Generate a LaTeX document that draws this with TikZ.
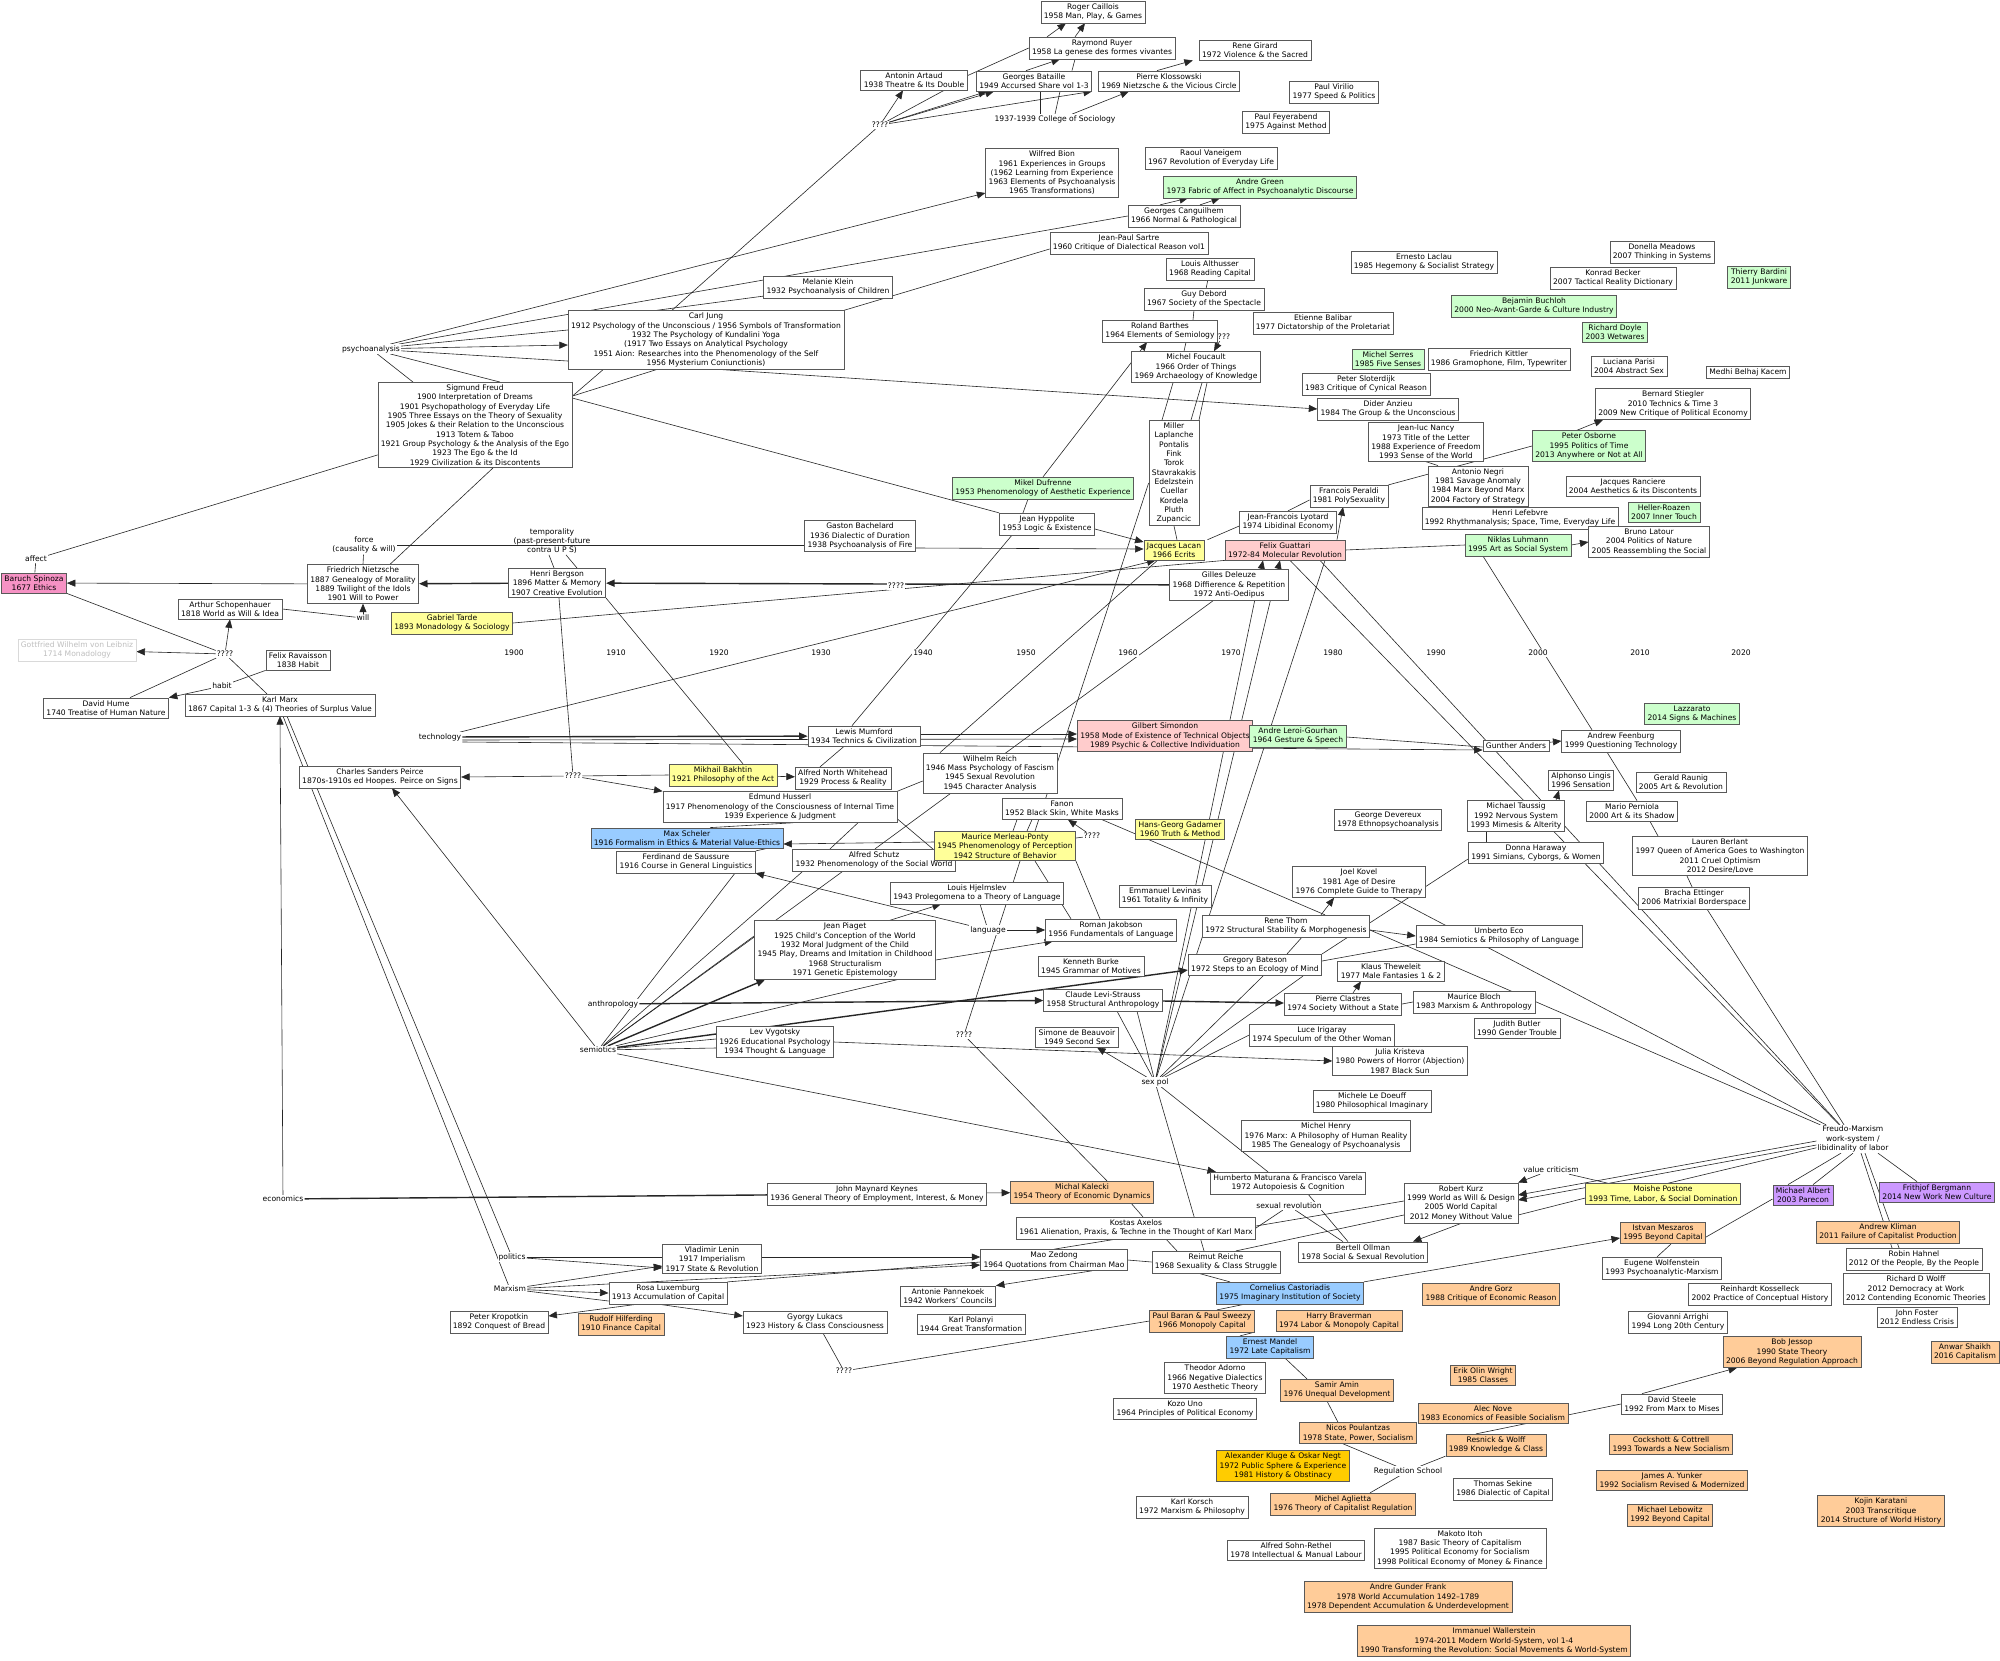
\documentclass[tikz,border=0pt]{standalone}
\usepackage{fontspec}
\setmainfont{DejaVu Sans}
\usetikzlibrary{arrows.meta}
\pgfdeclarelayer{edges}
\pgfdeclarelayer{paper}
\pgfsetlayers{paper,edges,main}
\definecolor{hotpink}{RGB}{246,146,196}
\definecolor{rosepink}{RGB}{255,204,204}
\definecolor{mintgreen}{RGB}{204,255,204}
\definecolor{paleyellow}{RGB}{255,255,153}
\definecolor{skyblue}{RGB}{153,204,255}
\definecolor{peach}{RGB}{255,204,153}
\definecolor{goldbox}{RGB}{255,204,0}
\definecolor{lilac}{RGB}{204,153,255}

\begin{document}
\begin{tikzpicture}[x=1pt,y=-1pt]
   \tikzset{BoxStyle/.style={draw=black!65,line width=0.6pt,fill=white,align=center,
      inner xsep=3pt,inner ysep=2.5pt,font=\fontsize{7.6}{9.3}\selectfont}}
   \tikzset{GreenBox/.style={BoxStyle,fill=mintgreen},
      YellowBox/.style={BoxStyle,fill=paleyellow},
      PinkBox/.style={BoxStyle,fill=rosepink},
      BlueBox/.style={BoxStyle,fill=skyblue},
      OrangeBox/.style={BoxStyle,fill=peach},
      LabelStyle/.style={fill=white,inner sep=1pt,align=center,font=\fontsize{7.6}{9.3}\selectfont},
      EdgeStyle/.style={line width=0.6pt,black!85},
      ArrowStyle/.style={EdgeStyle,-{Triangle[length=8.5pt,width=7pt]}},
      ThickStyle/.style={line width=1.4pt}}
   \useasboundingbox (0,0) rectangle (2000,1660);
   \begin{pgfonlayer}{paper}
   \fill[white] (0,0) rectangle (2000,1660);
   \end{pgfonlayer}

   % years
   \node[LabelStyle] (y1900) at (514,653) {1900};
   \node[LabelStyle] (y1910) at (616,653) {1910};
   \node[LabelStyle] (y1920) at (719,653) {1920};
   \node[LabelStyle] (y1930) at (821,653) {1930};
   \node[LabelStyle] (y1940) at (923,653) {1940};
   \node[LabelStyle] (y1950) at (1026,653) {1950};
   \node[LabelStyle] (y1960) at (1128,653) {1960};
   \node[LabelStyle] (y1970) at (1231,653) {1970};
   \node[LabelStyle] (y1980) at (1333,653) {1980};
   \node[LabelStyle] (y1990) at (1436,653) {1990};
   \node[LabelStyle] (y2000) at (1538,653) {2000};
   \node[LabelStyle] (y2010) at (1640,653) {2010};
   \node[LabelStyle] (y2020) at (1741,653) {2020};

   % top cluster
   \node[BoxStyle] (caillois) at (1093,12) {Roger Caillois\\1958 Man, Play, \& Games};
   \node[BoxStyle] (ruyer) at (1102,48) {Raymond Ruyer\\1958 La genese des formes vivantes};
   \node[BoxStyle] (girard) at (1255,50) {Rene Girard\\1972 Violence \& the Sacred};
   \node[BoxStyle] (artaud) at (914,80) {Antonin Artaud\\1938 Theatre \& Its Double};
   \node[BoxStyle] (bataille) at (1034,81) {Georges Bataille\\1949 Accursed Share vol 1-3};
   \node[BoxStyle] (klossowski) at (1169,81) {Pierre Klossowski\\1969 Nietzsche \& the Vicious Circle};
   \node[BoxStyle] (virilio) at (1334,92) {Paul Virilio\\1977 Speed \& Politics};
   \node[BoxStyle] (feyerabend) at (1286,122) {Paul Feyerabend\\1975 Against Method};
   \node[LabelStyle] (college) at (1055,119) {1937-1939 College of Sociology};
   \node[LabelStyle] (qtop) at (880,125) {????};
   \node[BoxStyle] (bion) at (1052,173) {Wilfred Bion\\1961 Experiences in Groups\\(1962 Learning from Experience\\1963 Elements of Psychoanalysis\\1965 Transformations)};
   \node[BoxStyle] (vaneigem) at (1211,158) {Raoul Vaneigem\\1967 Revolution of Everyday Life};
   \node[GreenBox] (green) at (1260,187) {Andre Green\\1973 Fabric of Affect in Psychoanalytic Discourse};
   \node[BoxStyle] (canguilhem) at (1184,216) {Georges Canguilhem\\1966 Normal \& Pathological};
   \node[BoxStyle] (sartre) at (1129,243) {Jean-Paul Sartre\\1960 Critique of Dialectical Reason vol1};
   \node[BoxStyle] (althusser) at (1210,269) {Louis Althusser\\1968 Reading Capital};
   \node[BoxStyle] (debord) at (1204,299) {Guy Debord\\1967 Society of the Spectacle};
   \node[BoxStyle] (balibar) at (1323,323) {Etienne Balibar\\1977 Dictatorship of the Proletariat};
   \node[BoxStyle] (laclau) at (1424,262) {Ernesto Laclau\\1985 Hegemony \& Socialist Strategy};
   \node[LabelStyle] (qfou) at (1222,337) {????};
   \node[BoxStyle] (barthes) at (1160,331) {Roland Barthes\\1964 Elements of Semiology};
   \node[BoxStyle] (foucault) at (1196,367) {Michel Foucault\\1966 Order of Things\\1969 Archaeology of Knowledge};
   \node[GreenBox] (serres) at (1388,359) {Michel Serres\\1985 Five Senses};
   \node[BoxStyle] (kittler) at (1499,359) {Friedrich Kittler\\1986 Gramophone, Film, Typewriter};
   \node[BoxStyle] (sloterdijk) at (1366,384) {Peter Sloterdijk\\1983 Critique of Cynical Reason};
   \node[BoxStyle] (anzieu) at (1388,409) {Dider Anzieu\\1984 The Group \& the Unconscious};
   \node[BoxStyle] (nancy) at (1426,442) {Jean-luc Nancy\\1973 Title of the Letter\\1988 Experience of Freedom\\1993 Sense of the World};
   \node[BoxStyle] (miller) at (1174,473) {Miller\\Laplanche\\Pontalis\\Fink\\Torok\\Stavrakakis\\Edelzstein\\Cuellar\\Kordela\\Pluth\\Zupancic};
   \node[GreenBox] (dufrenne) at (1043,488) {Mikel Dufrenne\\1953 Phenomenology of Aesthetic Experience};
   \node[BoxStyle] (hyppolite) at (1047,524) {Jean Hyppolite\\1953 Logic \& Existence};
   \node[YellowBox] (lacan) at (1174,550) {Jacques Lacan\\1966 Ecrits};
   \node[BoxStyle] (lyotard) at (1288,522) {Jean-Francois Lyotard\\1974 Libidinal Economy};
   \node[BoxStyle] (peraldi) at (1349,496) {Francois Peraldi\\1981 PolySexuality};
   \node[PinkBox] (guattari) at (1285,550) {Felix Guattari\\1972-84 Molecular Revolution};
   \node[BoxStyle] (lefebvre) at (1520,518) {Henri Lefebvre\\1992 Rhythmanalysis; Space, Time, Everyday Life};
   \node[BoxStyle] (negri) at (1478,486) {Antonio Negri\\1981 Savage Anomaly\\1984 Marx Beyond Marx\\2004 Factory of Strategy};
   \node[GreenBox] (luhmann) at (1518,545) {Niklas Luhmann\\1995 Art as Social System};
   \node[BoxStyle] (meadows) at (1662,252) {Donella Meadows\\2007 Thinking in Systems};
   \node[BoxStyle] (becker) at (1613,278) {Konrad Becker\\2007 Tactical Reality Dictionary};
   \node[GreenBox] (bardini) at (1759,277) {Thierry Bardini\\2011 Junkware};
   \node[GreenBox] (buchloh) at (1534,306) {Bejamin Buchloh\\2000 Neo-Avant-Garde \& Culture Industry};
   \node[GreenBox] (doyle) at (1615,332) {Richard Doyle\\2003 Wetwares};
   \node[BoxStyle] (parisi) at (1629,366) {Luciana Parisi\\2004 Abstract Sex};
   \node[BoxStyle] (kacem) at (1748,372) {Medhi Belhaj Kacem};
   \node[BoxStyle] (stiegler) at (1673,404) {Bernard Stiegler\\2010 Technics \& Time 3\\2009 New Critique of Political Economy};
   \node[GreenBox] (osborne) at (1589,446) {Peter Osborne\\1995 Politics of Time\\2013 Anywhere or Not at All};
   \node[BoxStyle] (ranciere) at (1633,486) {Jacques Ranciere\\2004 Aesthetics \& its Discontents};
   \node[GreenBox] (roazen) at (1664,512) {Heller-Roazen\\2007 Inner Touch};
   \node[BoxStyle] (latour) at (1649,542) {Bruno Latour\\2004 Politics of Nature\\2005 Reassembling the Social};

   % psychoanalysis and left side
   \node[LabelStyle] (psycho) at (371,349) {psychoanalysis};
   \node[BoxStyle] (jung) at (706,340) {Carl Jung\\1912 Psychology of the Unconscious / 1956 Symbols of Transformation\\1932 The Psychology of Kundalini Yoga\\(1917 Two Essays on Analytical Psychology\\1951 Aion: Researches into the Phenomenology of the Self\\1956 Mysterium Coniunctionis)};
   \node[BoxStyle] (klein) at (828,287) {Melanie Klein\\1932 Psychoanalysis of Children};
   \node[BoxStyle] (freud) at (475,425) {Sigmund Freud\\1900 Interpretation of Dreams\\1901 Psychopathology of Everyday Life\\1905 Three Essays on the Theory of Sexuality\\1905 Jokes \& their Relation to the Unconscious\\1913 Totem \& Taboo\\1921 Group Psychology \& the Analysis of the Ego\\1923 The Ego \& the Id\\1929 Civilization \& its Discontents};
   \node[LabelStyle] (force) at (364,545) {force\\(causality \& will)};
   \node[LabelStyle,fill=none] (temporality) at (552,541) {temporality\\(past-present-future\\contra U P S)};
   \node[BoxStyle] (bachelard) at (860,536) {Gaston Bachelard\\1936 Dialectic of Duration\\1938 Psychoanalysis of Fire};
   \node[LabelStyle] (affect) at (36,559) {affect};
   \node[BoxStyle,fill=hotpink] (spinoza) at (34,583) {Baruch Spinoza\\1677 Ethics};
   \node[BoxStyle] (nietzsche) at (363,584) {Friedrich Nietzsche\\1887 Genealogy of Morality\\1889 Twilight of the Idols\\1901 Will to Power};
   \node[BoxStyle] (schopenhauer) at (230,609) {Arthur Schopenhauer\\1818 World as Will \& Idea};
   \node[LabelStyle] (will) at (363,618) {will};
   \node[YellowBox] (tarde) at (452,623) {Gabriel Tarde\\1893 Monadology \& Sociology};
   \node[BoxStyle,draw=black!15,text=black!25] (leibniz) at (77,650) {Gottfried Wilhelm von Leibniz\\1714 Monadology};
   \node[LabelStyle] (qleft) at (225,654) {????};
   \node[BoxStyle] (ravaisson) at (298,660) {Felix Ravaisson\\1838 Habit};
   \node[LabelStyle] (habit) at (222,686) {habit};
   \node[BoxStyle] (hume) at (106,708) {David Hume\\1740 Treatise of Human Nature};
   \node[BoxStyle] (marx) at (280,705) {Karl Marx\\1867 Capital 1-3 \& (4) Theories of Surplus Value};
   \node[BoxStyle] (bergson) at (557,583) {Henri Bergson\\1896 Matter \& Memory\\1907 Creative Evolution};
   \node[LabelStyle] (qberg) at (896,586) {????};
   \node[LabelStyle] (technology) at (440,737) {technology};
   \node[BoxStyle] (peirce) at (380,777) {Charles Sanders Peirce\\1870s-1910s ed Hoopes. Peirce on Signs};

   % middle
   \node[BoxStyle] (mumford) at (864,736) {Lewis Mumford\\1934 Technics \& Civilization};
   \node[YellowBox] (bakhtin) at (723,775) {Mikhail Bakhtin\\1921 Philosophy of the Act};
   \node[LabelStyle] (qpeirce) at (573,776) {????};
   \node[BoxStyle] (whitehead) at (843,778) {Alfred North Whitehead\\1929 Process \& Reality};
   \node[BoxStyle] (husserl) at (780,807) {Edmund Husserl\\1917 Phenomenology of the Consciousness of Internal Time\\1939 Experience \& Judgment};
   \node[BoxStyle] (reich) at (990,773) {Wilhelm Reich\\1946 Mass Psychology of Fascism\\1945 Sexual Revolution\\1945 Character Analysis};
   \node[BlueBox] (scheler) at (687,838) {Max Scheler\\1916 Formalism in Ethics \& Material Value-Ethics};
   \node[BoxStyle] (saussure) at (686,862) {Ferdinand de Saussure\\1916 Course in General Linguistics};
   \node[BoxStyle] (schutz) at (874,860) {Alfred Schutz\\1932 Phenomenology of the Social World};
   \node[YellowBox] (merleau) at (1005,846) {Maurice Merleau-Ponty\\1945 Phenomenology of Perception\\1942 Structure of Behavior};
   \node[BoxStyle] (hjelmslev) at (977,893) {Louis Hjelmslev\\1943 Prolegomena to a Theory of Language};
   \node[LabelStyle] (language) at (988,930) {language};
   \node[BoxStyle] (piaget) at (845,950) {Jean Piaget\\1925 Child's Conception of the World\\1932 Moral Judgment of the Child\\1945 Play, Dreams and Imitation in Childhood\\1968 Structuralism\\1971 Genetic Epistemology};
   \node[LabelStyle] (anthropology) at (613,1004) {anthropology};
   \node[LabelStyle] (semiotics) at (598,1050) {semiotics};
   \node[BoxStyle] (vygotsky) at (775,1042) {Lev Vygotsky\\1926 Educational Psychology\\1934 Thought \& Language};
   \node[LabelStyle] (qsem) at (964,1035) {????};
   \node[BoxStyle] (deleuze) at (1229,585) {Gilles Deleuze\\1968 Diffierence \& Repetition\\1972 Anti-Oedipus};
   \node[PinkBox] (simondon) at (1165,736) {Gilbert Simondon\\1958 Mode of Existence of Technical Objects\\1989 Psychic \& Collective Individuation};
   \node[GreenBox] (leroi) at (1298,736) {Andre Leroi-Gourhan\\1964 Gesture \& Speech};
   \node[BoxStyle] (anders) at (1516,746) {Gunther Anders};
   \node[BoxStyle] (fanon) at (1062,809) {Fanon\\1952 Black Skin, White Masks};
   \node[LabelStyle] (qfanon) at (1092,836) {????};
   \node[YellowBox] (gadamer) at (1180,829) {Hans-Georg Gadamer\\1960 Truth \& Method};
   \node[BoxStyle] (devereux) at (1388,820) {George Devereux\\1978 Ethnopsychoanalysis};
   \node[BoxStyle] (kovel) at (1359,882) {Joel Kovel\\1981 Age of Desire\\1976 Complete Guide to Therapy};
   \node[BoxStyle] (levinas) at (1165,896) {Emmanuel Levinas\\1961 Totality \& Infinity};
   \node[BoxStyle] (jakobson) at (1111,930) {Roman Jakobson\\1956 Fundamentals of Language};
   \node[BoxStyle] (thom) at (1286,926) {Rene Thom\\1972 Structural Stability \& Morphogenesis};
   \node[BoxStyle] (eco) at (1499,936) {Umberto Eco\\1984 Semiotics \& Philosophy of Language};
   \node[BoxStyle] (burke) at (1091,966) {Kenneth Burke\\1945 Grammar of Motives};
   \node[BoxStyle] (bateson) at (1255,965) {Gregory Bateson\\1972 Steps to an Ecology of Mind};
   \node[BoxStyle] (theweleit) at (1391,971) {Klaus Theweleit\\1977 Male Fantasies 1 \& 2};
   \node[BoxStyle] (levistrauss) at (1103,1000) {Claude Levi-Strauss\\1958 Structural Anthropology};
   \node[BoxStyle] (clastres) at (1343,1004) {Pierre Clastres\\1974 Society Without a State};
   \node[BoxStyle] (bloch) at (1474,1002) {Maurice Bloch\\1983 Marxism \& Anthropology};
   \node[BoxStyle] (butler) at (1517,1028) {Judith Butler\\1990 Gender Trouble};
   \node[BoxStyle] (beauvoir) at (1077,1037) {Simone de Beauvoir\\1949 Second Sex};
   \node[BoxStyle] (irigaray) at (1322,1035) {Luce Irigaray\\1974 Speculum of the Other Woman};
   \node[BoxStyle] (kristeva) at (1400,1061) {Julia Kristeva\\1980 Powers of Horror (Abjection)\\1987 Black Sun};
   \node[LabelStyle] (sexpol) at (1155,1082) {sex pol};
   \node[BoxStyle] (doeuff) at (1372,1101) {Michele Le Doeuff\\1980 Philosophical Imaginary};
   \node[GreenBox] (lazzarato) at (1692,714) {Lazzarato\\2014 Signs \& Machines};
   \node[BoxStyle] (feenburg) at (1621,741) {Andrew Feenburg\\1999 Questioning Technology};
   \node[BoxStyle] (lingis) at (1581,780) {Alphonso Lingis\\1996 Sensation};
   \node[BoxStyle] (raunig) at (1681,782) {Gerald Raunig\\2005 Art \& Revolution};
   \node[BoxStyle] (taussig) at (1516,816) {Michael Taussig\\1992 Nervous System\\1993 Mimesis \& Alterity};
   \node[BoxStyle] (perniola) at (1632,811) {Mario Perniola\\2000 Art \& its Shadow};
   \node[BoxStyle] (haraway) at (1536,853) {Donna Haraway\\1991 Simians, Cyborgs, \& Women};
   \node[BoxStyle] (berlant) at (1720,856) {Lauren Berlant\\1997 Queen of America Goes to Washington\\2011 Cruel Optimism\\2012 Desire/Love};
   \node[BoxStyle] (ettinger) at (1694,898) {Bracha Ettinger\\2006 Matrixial Borderspace};

   % economics and Marxism
   \node[LabelStyle] (economics) at (283,1199) {economics};
   \node[BoxStyle] (keynes) at (877,1194) {John Maynard Keynes\\1936 General Theory of Employment, Interest, \& Money};
   \node[LabelStyle] (politics) at (512,1257) {politics};
   \node[LabelStyle] (marxism) at (510,1289) {Marxism};
   \node[BoxStyle] (lenin) at (712,1259) {Vladimir Lenin\\1917 Imperialism\\1917 State \& Revolution};
   \node[BoxStyle] (rosa) at (668,1293) {Rosa Luxemburg\\1913 Accumulation of Capital};
   \node[BoxStyle] (kropotkin) at (499,1322) {Peter Kropotkin\\1892 Conquest of Bread};
   \node[OrangeBox] (hilferding) at (621,1324) {Rudolf Hilferding\\1910 Finance Capital};
   \node[BoxStyle] (lukacs) at (815,1322) {Gyorgy Lukacs\\1923 History \& Class Consciousness};
   \node[LabelStyle] (qluk) at (844,1371) {????};
   \node[BoxStyle] (pannekoek) at (948,1296) {Antonie Pannekoek\\1942 Workers' Councils};
   \node[BoxStyle] (polanyi) at (971,1324) {Karl Polanyi\\1944 Great Transformation};
   \node[BoxStyle] (henry) at (1326,1136) {Michel Henry\\1976 Marx: A Philosophy of Human Reality\\1985 The Genealogy of Psychoanalysis};
   \node[BoxStyle] (maturana) at (1288,1183) {Humberto Maturana \& Francisco Varela\\1972 Autopoiesis \& Cognition};
   \node[OrangeBox] (kalecki) at (1082,1192) {Michal Kalecki\\1954 Theory of Economic Dynamics};
   \node[BoxStyle] (kurz) at (1461,1203) {Robert Kurz\\1999 World as Will \& Design\\2005 World Capital\\2012 Money Without Value};
   \node[LabelStyle] (sexrev) at (1289,1206) {sexual revolution};
   \node[BoxStyle] (axelos) at (1136,1228) {Kostas Axelos\\1961 Alienation, Praxis, \& Techne in the Thought of Karl Marx};
   \node[BoxStyle] (mao) at (1054,1260) {Mao Zedong\\1964 Quotations from Chairman Mao};
   \node[BoxStyle] (reiche) at (1216,1262) {Reimut Reiche\\1968 Sexuality \& Class Struggle};
   \node[BoxStyle] (ollman) at (1363,1252) {Bertell Ollman\\1978 Social \& Sexual Revolution};
   \node[BlueBox] (castoriadis) at (1290,1293) {Cornelius Castoriadis\\1975 Imaginary Institution of Society};
   \node[OrangeBox] (gorz) at (1491,1294) {Andre Gorz\\1988 Critique of Economic Reason};
   \node[OrangeBox] (baran) at (1202,1321) {Paul Baran \& Paul Sweezy\\1966 Monopoly Capital};
   \node[OrangeBox] (braverman) at (1339,1321) {Harry Braverman\\1974 Labor \& Monopoly Capital};
   \node[BlueBox] (mandel) at (1270,1347) {Ernest Mandel\\1972 Late Capitalism};
   \node[BoxStyle] (adorno) at (1215,1378) {Theodor Adorno\\1966 Negative Dialectics\\1970 Aesthetic Theory};
   \node[OrangeBox] (amin) at (1337,1390) {Samir Amin\\1976 Unequal Development};
   \node[OrangeBox] (wright) at (1483,1375) {Erik Olin Wright\\1985 Classes};
   \node[BoxStyle] (uno) at (1185,1409) {Kozo Uno\\1964 Principles of Political Economy};
   \node[OrangeBox] (nove) at (1493,1413) {Alec Nove\\1983 Economics of Feasible Socialism};
   \node[OrangeBox] (poulantzas) at (1358,1433) {Nicos Poulantzas\\1978 State, Power, Socialism};
   \node[OrangeBox] (resnick) at (1496,1445) {Resnick \& Wolff\\1989 Knowledge \& Class};
   \node[BoxStyle,fill=goldbox] (kluge) at (1283,1466) {Alexander Kluge \& Oskar Negt\\1972 Public Sphere \& Experience\\1981 History \& Obstinacy};
   \node[LabelStyle] (regulation) at (1408,1471) {Regulation School};
   \node[BoxStyle] (sekine) at (1503,1489) {Thomas Sekine\\1986 Dialectic of Capital};
   \node[BoxStyle] (korsch) at (1192,1507) {Karl Korsch\\1972 Marxism \& Philosophy};
   \node[OrangeBox] (aglietta) at (1343,1504) {Michel Aglietta\\1976 Theory of Capitalist Regulation};
   \node[BoxStyle] (sohnrethel) at (1296,1550) {Alfred Sohn-Rethel\\1978 Intellectual \& Manual Labour};
   \node[BoxStyle] (itoh) at (1460,1548) {Makoto Itoh\\1987 Basic Theory of Capitalism\\1995 Political Economy for Socialism\\1998 Political Economy of Money \& Finance};
   \node[OrangeBox] (frank) at (1408,1597) {Andre Gunder Frank\\1978 World Accumulation 1492--1789\\1978 Dependent Accumulation \& Underdevelopment};
   \node[OrangeBox] (wallerstein) at (1494,1641) {Immanuel Wallerstein\\1974-2011 Modern World-System, vol 1-4\\1990 Transforming the Revolution: Social Movements \& World-System};
   \node[LabelStyle] (freudo) at (1853,1139) {Freudo-Marxism\\work-system /\\libidinality of labor};
   \node[LabelStyle] (valuecrit) at (1551,1170) {value criticism};
   \node[YellowBox] (postone) at (1663,1194) {Moishe Postone\\1993 Time, Labor, \& Social Domination};
   \node[BoxStyle,fill=lilac] (albert) at (1803,1195) {Michael Albert\\2003 Parecon};
   \node[BoxStyle,fill=lilac] (bergmann) at (1937,1192) {Frithjof Bergmann\\2014 New Work New Culture};
   \node[OrangeBox] (meszaros) at (1663,1233) {Istvan Meszaros\\1995 Beyond Capital};
   \node[OrangeBox] (kliman) at (1888,1232) {Andrew Kliman\\2011 Failure of Capitalist Production};
   \node[BoxStyle] (wolfenstein) at (1662,1268) {Eugene Wolfenstein\\1993 Psychoanalytic-Marxism};
   \node[BoxStyle] (hahnel) at (1914,1259) {Robin Hahnel\\2012 Of the People, By the People};
   \node[BoxStyle] (kosselleck) at (1760,1294) {Reinhardt Kosselleck\\2002 Practice of Conceptual History};
   \node[BoxStyle] (wolff) at (1916,1289) {Richard D Wolff\\2012 Democracy at Work\\2012 Contending Economic Theories};
   \node[BoxStyle] (arrighi) at (1678,1322) {Giovanni Arrighi\\1994 Long 20th Century};
   \node[BoxStyle] (foster) at (1917,1317) {John Foster\\2012 Endless Crisis};
   \node[OrangeBox] (jessop) at (1792,1352) {Bob Jessop\\1990 State Theory\\2006 Beyond Regulation Approach};
   \node[OrangeBox] (shaikh) at (1965,1352) {Anwar Shaikh\\2016 Capitalism};
   \node[BoxStyle] (steele) at (1672,1404) {David Steele\\1992 From Marx to Mises};
   \node[OrangeBox] (cockshott) at (1671,1444) {Cockshott \& Cottrell\\1993 Towards a New Socialism};
   \node[OrangeBox] (yunker) at (1672,1480) {James A. Yunker\\1992 Socialism Revised \& Modernized};
   \node[OrangeBox] (lebowitz) at (1670,1515) {Michael Lebowitz\\1992 Beyond Capital};
   \node[OrangeBox] (karatani) at (1881,1511) {Kojin Karatani\\2003 Transcritique\\2014 Structure of World History};

   \begin{pgfonlayer}{edges}
   % top cluster
   \draw[ArrowStyle] (qtop) -- ([xshift=-11pt]artaud.south);
   \draw[EdgeStyle] (qtop) -- ([xshift=30pt]artaud.south);
   \draw[ArrowStyle] (qtop) -- ([xshift=-47pt]bataille.south);
   \draw[ArrowStyle] (qtop) -- ([xshift=-40pt]bataille.south);
   \draw[ArrowStyle] (qtop) -- (bataille.south east);
   \draw[EdgeStyle] ([xshift=-34pt]jung.north) -- (qtop);
   \draw[EdgeStyle] ([xshift=-15pt]college.north) -- ([xshift=6pt]bataille.south);
   \draw[EdgeStyle] ([xshift=0pt]college.north) -- ([xshift=26pt]bataille.south);
   \draw[ArrowStyle] ([xshift=17pt]college.north) -- ([xshift=-40pt]klossowski.south);
   \draw[ArrowStyle] ([xshift=-8pt]bataille.north) -- ([xshift=-42pt]ruyer.south);
   \draw[EdgeStyle] ([xshift=-27pt]ruyer.south) -- ([xshift=38pt]bataille.north);
   \draw[ArrowStyle] ([xshift=-55pt]ruyer.north) -- ([xshift=-27pt]caillois.south);
   \draw[ArrowStyle] ([xshift=-27pt]ruyer.north) -- ([xshift=-8pt]caillois.south);
   \draw[EdgeStyle] ([yshift=-6pt]artaud.north east) -- (ruyer.west);
   \draw[ArrowStyle] ([xshift=-12pt]klossowski.north) -- ([xshift=-6pt]girard.south west);
   % psychoanalysis
   \draw[ArrowStyle] (psycho) -- ([yshift=-20pt]bion.west);
   \draw[EdgeStyle] (psycho) -- (canguilhem.west);
   \draw[ArrowStyle] ([xshift=-24pt]canguilhem.north) -- ([xshift=-72pt]green.south);
   \draw[ArrowStyle] ([xshift=16pt]canguilhem.north) -- ([xshift=-40pt]green.south);
   \draw[EdgeStyle] (psycho) -- ([yshift=10pt]jung.west);
   \draw[EdgeStyle] ([xshift=-49pt]jung.north) -- ([yshift=2pt]klein.south west);
   \draw[ArrowStyle] (psycho) -- ([yshift=-5pt]jung.west);
   \draw[EdgeStyle] (psycho) -- ([yshift=-21pt]jung.west);
   \draw[EdgeStyle] (psycho) -- ([xshift=25pt]freud.north);
   \draw[EdgeStyle] (psycho) -- ([xshift=-62pt]freud.north);
   \draw[EdgeStyle] (jung.north east) -- ([yshift=-6pt]sartre.west);
   \draw[ArrowStyle] ([xshift=17pt]jung.south) -- (anzieu.west);
   \draw[EdgeStyle] ([yshift=-14pt]freud.north east) -- ([xshift=-103pt]jung.south);
   \draw[EdgeStyle] ([yshift=-14pt]freud.north east) -- ([xshift=-50pt]jung.south);
   \draw[EdgeStyle] ([yshift=-16pt]freud.north east) -- (hyppolite.north west);
   \draw[EdgeStyle] ([yshift=13pt]freud.south west) -- (affect);
   \draw[EdgeStyle] ([xshift=18pt]freud.south) -- ([xshift=27pt]nietzsche.north);
   % force, will, affect
   \draw[EdgeStyle] (force) -- (nietzsche.north);
   \draw[EdgeStyle] (force) -- ([yshift=-9pt]bachelard.west);
   \draw[ArrowStyle] ([yshift=-12pt]bachelard.east) -- ([yshift=1pt]lacan.west);
   \draw[ArrowStyle] ([yshift=-5pt]hyppolite.east) -- ([yshift=8pt]lacan.west);
   \draw[ArrowStyle,ThickStyle] (bergson) -- (nietzsche);
   \draw[ArrowStyle] (nietzsche) -- (spinoza);
   \draw[EdgeStyle] ([xshift=-3pt]temporality.south) -- ([xshift=-3pt]bergson.north);
   \draw[EdgeStyle] ([xshift=14pt]temporality.south) -- ([xshift=20pt]bergson.north);
   \draw[ArrowStyle,ThickStyle] (deleuze) -- (bergson);
   \draw[EdgeStyle] (schopenhauer.east) -- (will);
   \draw[ArrowStyle] (will) -- (nietzsche.south);
   \draw[EdgeStyle] (affect) -- (spinoza);
   \draw[EdgeStyle] (spinoza.south east) -- (qleft);
   \draw[ArrowStyle] (qleft) -- (schopenhauer.south);
   \draw[ArrowStyle] (qleft) -- (leibniz);
   \draw[EdgeStyle] (qleft) -- ([xshift=24pt]hume.north);
   \draw[EdgeStyle] (qleft) -- ([xshift=-13pt]marx.north);
   \draw[EdgeStyle] (ravaisson.south west) -- (habit);
   \draw[ArrowStyle] (habit) -- (hume.north east);
   \draw[EdgeStyle] (tarde.east) -- (guattari.south west);
   % technology
   \draw[ArrowStyle] (technology) -- ([xshift=12pt]lacan.south west);
   \draw[EdgeStyle] ([xshift=-50pt]reich.north) -- ([xshift=14pt]lacan.south west);
   \draw[EdgeStyle] ([xshift=-16pt]deleuze.south) -- ([xshift=1pt]schutz.north);
   \draw[EdgeStyle] ([xshift=-35pt]hyppolite.south) -- ([xshift=-12pt]mumford.north);
   \draw[EdgeStyle] ([xshift=-15pt]dufrenne.south) -- ([xshift=-24pt]hyppolite.north);
   \draw[ArrowStyle] (dufrenne.north) -- ([xshift=-13pt]barthes.south);
   \draw[ArrowStyle] (qfou) -- ([xshift=18pt]foucault.north);
   \draw[EdgeStyle] (althusser) -- (debord);
   \draw[EdgeStyle] ([xshift=-10pt]debord.south) -- ([xshift=33pt]barthes.north);
   \draw[EdgeStyle] ([xshift=26pt]barthes.south) -- ([xshift=-12pt]foucault.north);
   \draw[EdgeStyle] ([xshift=-23pt]foucault.south) -- ([xshift=-12pt]miller.north);
   \draw[EdgeStyle] ([xshift=6pt]foucault.south) -- ([xshift=17pt]miller.north);
   \draw[EdgeStyle] ([xshift=11pt]foucault.south) -- ([xshift=25pt]miller.north);
   \draw[EdgeStyle] (miller.south) -- ([xshift=3pt]lacan.north);
   \draw[EdgeStyle] ([yshift=-10pt]miller.west) -- ([xshift=30pt]merleau.north);
   \draw[EdgeStyle] ([xshift=3pt]lacan.north east) -- ([yshift=-4pt]lyotard.west);
   \draw[EdgeStyle] (lyotard.north) -- ([yshift=-4pt]peraldi.west);
   \draw[ArrowStyle] ([xshift=52pt]guattari.north) -- ([xshift=-6pt]peraldi.south);
   \draw[EdgeStyle] (peraldi.north east) -- (osborne.west);
   \draw[ArrowStyle] ([xshift=-12pt]osborne.north) -- ([xshift=-70pt]stiegler.south);
   \draw[EdgeStyle] (nancy.south) -- ([xshift=-40pt]negri.north);
   \draw[EdgeStyle] (guattari.east) -- (luhmann.west);
   \draw[ArrowStyle] (luhmann.east) -- (latour.west);
   \draw[EdgeStyle] ([xshift=5pt]guattari.south) -- (freudo);
   \draw[EdgeStyle] ([xshift=35pt]guattari.south) -- (freudo);
   \draw[EdgeStyle] ([xshift=40pt]guattari.south) -- (sexpol);
   \draw[ArrowStyle] (sexpol) -- ([xshift=-22pt]guattari.south);
   \draw[ArrowStyle] (sexpol) -- ([xshift=-5pt]guattari.south);
   \draw[EdgeStyle] ([xshift=-35pt]luhmann.south) -- ([xshift=-29pt]feenburg.north);
   \draw[EdgeStyle] ([xshift=-14pt]feenburg.south) -- ([xshift=5pt]perniola.north);
   \draw[EdgeStyle] ([xshift=18pt]perniola.south) -- ([xshift=-62pt]berlant.north);
   \draw[EdgeStyle] ([xshift=-33pt]berlant.south) -- ([xshift=-2pt]ettinger.north);
   \draw[EdgeStyle] ([xshift=13pt]ettinger.south) -- (freudo);
   \draw[EdgeStyle] ([xshift=34pt]kovel.south) -- (freudo);
   \draw[EdgeStyle] ([yshift=-4pt]thom.east) -- (freudo);
   \draw[ArrowStyle,ThickStyle] (technology) -- (mumford);
   \draw[ArrowStyle] ([yshift=-3pt]technology.east) -- ([yshift=-3pt]simondon.west);
   \draw[ArrowStyle] ([yshift=2pt]mumford.east) -- ([yshift=2pt]simondon.west);
   \draw[ArrowStyle] ([yshift=-5pt]technology.east) -- ([yshift=-4pt]anders.west);
   \draw[EdgeStyle] ([yshift=-1pt]leroi.east) -- ([yshift=-1pt]anders.west);
   \draw[ArrowStyle] (anders) -- (feenburg.west);
   % Peirce, semiotics
   \draw[ArrowStyle] (qpeirce) -- (peirce.east);
   \draw[ArrowStyle] (qpeirce) -- (husserl.north west);
   \draw[EdgeStyle] (qpeirce) -- (bakhtin.west);
   \draw[ArrowStyle] (bakhtin) -- (whitehead);
   \draw[EdgeStyle] ([xshift=-23pt]whitehead.north) -- ([xshift=-20pt]mumford.south);
   \draw[EdgeStyle] (bergson.south east) -- ([xshift=20pt]bakhtin.north);
   \draw[EdgeStyle] ([xshift=2pt]bergson.south) -- (qpeirce);
   \draw[ArrowStyle] (semiotics) -- ([xshift=12pt]peirce.south);
   \draw[EdgeStyle] (semiotics) -- ([xshift=49pt]saussure.south);
   \draw[EdgeStyle] (semiotics) -- ([xshift=-71pt]schutz.south);
   \draw[EdgeStyle] (semiotics) -- ([xshift=-31pt]schutz.south);
   \draw[EdgeStyle] (semiotics) -- ([yshift=13pt]piaget.west);
   \draw[ArrowStyle,ThickStyle] (semiotics) -- ([xshift=-80pt]piaget.south);
   \draw[EdgeStyle] (semiotics) -- ([xshift=52pt]piaget.south);
   \draw[EdgeStyle] (semiotics) -- ([yshift=3pt]vygotsky.west);
   \draw[EdgeStyle] (semiotics) -- ([yshift=-6pt]vygotsky.west);
   \draw[ArrowStyle] (semiotics) -- ([xshift=-72pt]maturana.north);
   \draw[ArrowStyle,ThickStyle] (semiotics) -- ([yshift=-5pt]bateson.west);
   \draw[ArrowStyle] (vygotsky.east) -- (kristeva.west);
   \draw[ArrowStyle] ([yshift=-10pt]piaget.east) -- ([xshift=8pt]jakobson.south west);
   \draw[ArrowStyle] ([xshift=45pt]piaget.north) -- ([xshift=-36pt]hjelmslev.south);
   \draw[ArrowStyle] (language) -- (jakobson);
   \draw[ArrowStyle] (language) -- (saussure.south east);
   \draw[EdgeStyle] (language) -- ([xshift=3pt]hjelmslev.south);
   \draw[ArrowStyle,ThickStyle] (anthropology) -- (levistrauss);
   \draw[ArrowStyle,ThickStyle] (levistrauss) -- (clastres);
   \draw[ArrowStyle] ([yshift=4pt]merleau.west) -- ([yshift=-6pt]scheler.east);
   \draw[EdgeStyle] ([xshift=78pt]husserl.south) -- ([xshift=-44pt]schutz.north);
   \draw[EdgeStyle] ([xshift=13pt]husserl.south) -- ([xshift=23pt]scheler.north);
   \draw[EdgeStyle] ([xshift=80pt]scheler.south) -- ([xshift=70pt]saussure.north);
   \draw[EdgeStyle] (husserl.north east) -- ([yshift=-8pt]reich.west);
   \draw[EdgeStyle] ([yshift=-12pt]husserl.east) -- ([yshift=-4pt]merleau.west);
   \draw[EdgeStyle] ([xshift=40pt]fanon.south) -- ([xshift=39pt]thom.north);
   \draw[ArrowStyle] (qfanon) -- ([xshift=6pt]fanon.south);
   \draw[EdgeStyle] ([yshift=8pt]merleau.east) -- (qfanon);
   \draw[EdgeStyle] (merleau.south east) -- ([xshift=-11pt]jakobson.north);
   \draw[EdgeStyle] ([xshift=-45pt]fanon.south) -- ([xshift=8pt]merleau.north);
   \draw[EdgeStyle] ([xshift=-30pt]fanon.south) -- ([xshift=22pt]merleau.north);
   \draw[EdgeStyle] ([xshift=30pt]merleau.south) -- ([xshift=-40pt]jakobson.north);
   \draw[EdgeStyle] (qsem) -- ([xshift=15pt]merleau.south);
   \draw[EdgeStyle] (qsem) -- ([xshift=25pt]kalecki.north);
   % Thom, Bateson
   \draw[ArrowStyle] ([xshift=35pt]thom.north) -- ([xshift=-25pt]kovel.south);
   \draw[ArrowStyle] ([yshift=-4pt]thom.east) -- (eco.west);
   \draw[EdgeStyle] ([xshift=32pt]bateson.north) -- ([xshift=16pt]thom.south);
   \draw[EdgeStyle] (bateson.north east) -- ([yshift=-6pt]haraway.west);
   \draw[EdgeStyle] ([yshift=4pt]bateson.east) -- ([yshift=-8pt]eco.west);
   \draw[ArrowStyle] ([xshift=10pt]clastres.north) -- ([xshift=-30pt]theweleit.south);
   \draw[EdgeStyle] (clastres.east) -- (bloch.west);
   \draw[ArrowStyle] ([xshift=40pt]taussig.north) -- ([xshift=-22pt]lingis.south);
   \draw[EdgeStyle] ([xshift=-30pt]taussig.south) -- ([xshift=-50pt]haraway.north);
   % sex pol
   \draw[ArrowStyle] (sexpol) -- ([xshift=20pt]beauvoir.south);
   \draw[EdgeStyle] (sexpol) -- ([xshift=8pt]bateson.south);
   \draw[EdgeStyle] (sexpol) -- ([xshift=48pt]bateson.south);
   \draw[EdgeStyle] (sexpol) -- (irigaray.west);
   \draw[EdgeStyle] (sexpol) -- ([xshift=14pt]levistrauss.south);
   \draw[EdgeStyle] (sexpol) -- ([xshift=34pt]levistrauss.south);
   \draw[EdgeStyle] (sexpol) -- ([xshift=-12pt]reiche.north);
   \draw[EdgeStyle] (sexpol) -- ([xshift=-20pt]maturana.north);
   % economics, Marxism
   \draw[EdgeStyle,ThickStyle] (economics) -- (keynes);
   \draw[ArrowStyle] (economics) -- (marx.south);
   \draw[EdgeStyle] (politics) -- ([xshift=7pt]marx.south);
   \draw[EdgeStyle] (marxism) -- ([xshift=3pt]marx.south);
   \draw[ArrowStyle] (keynes) -- (kalecki);
   \draw[EdgeStyle] ([xshift=49pt]kalecki.south) -- ([xshift=7pt]axelos.north);
   \draw[EdgeStyle] ([xshift=-20pt]axelos.south) -- (mao.north);
   \draw[EdgeStyle] ([xshift=30pt]axelos.south) -- ([xshift=-39pt]reiche.north);
   \draw[EdgeStyle] (mao.east) -- (reiche.west);
   \draw[ArrowStyle] ([xshift=38pt]mao.south) -- (pannekoek.north east);
   \draw[EdgeStyle] ([xshift=-18pt]reiche.south) -- ([xshift=-60pt]castoriadis.north);
   \draw[EdgeStyle] ([xshift=-45pt]castoriadis.south) -- ([xshift=15pt]baran.north);
   \draw[EdgeStyle] (qluk) -- (baran.west);
   \draw[EdgeStyle] (qluk) -- ([xshift=8pt]lukacs.south);
   \draw[EdgeStyle] (baran.south east) -- ([xshift=-30pt]mandel.north);
   \draw[EdgeStyle] ([xshift=15pt]mandel.south) -- ([xshift=-30pt]amin.north);
   \draw[EdgeStyle] ([xshift=-10pt]amin.south) -- ([xshift=-20pt]poulantzas.north);
   \draw[EdgeStyle] ([xshift=-15pt]poulantzas.south) -- (regulation);
   \draw[EdgeStyle] (regulation) -- ([xshift=27pt]aglietta.north);
   \draw[EdgeStyle] (regulation) -- (resnick.south west);
   \draw[EdgeStyle] ([xshift=-20pt]resnick.north) -- (steele.west);
   \draw[ArrowStyle] ([xshift=-30pt]steele.north) -- ([xshift=-55pt]jessop.south);
   \draw[ArrowStyle] (politics) -- ([yshift=-9pt]lenin.west);
   \draw[ArrowStyle] (politics) -- ([yshift=3pt]mao.west);
   \draw[ArrowStyle] (marxism) -- ([yshift=-7pt]lenin.west);
   \draw[ArrowStyle] (marxism) -- (rosa.west);
   \draw[EdgeStyle] (marxism) -- ([yshift=-8pt]rosa.west);
   \draw[ArrowStyle] (marxism) -- ([yshift=-5pt]mao.west);
   \draw[EdgeStyle] (rosa.north east) -- ([yshift=-2pt]mao.west);
   \draw[ArrowStyle] ([xshift=-30pt]rosa.south) -- ([yshift=6pt]kropotkin.east);
   \draw[ArrowStyle] ([xshift=-10pt]rosa.south) -- ([yshift=6pt]lukacs.west);
   % Freudo-Marxism
   \draw[ArrowStyle] ([yshift=-2pt]freudo.west) -- ([yshift=8pt]kurz.east);
   \draw[ArrowStyle] ([yshift=-6pt]freudo.west) -- ([yshift=3pt]kurz.east);
   \draw[ArrowStyle] (valuecrit) -- (kurz.north east);
   \draw[EdgeStyle] (valuecrit) -- ([xshift=-55pt]postone.north);
   \draw[EdgeStyle] (freudo) -- ([xshift=5pt]postone.north);
   \draw[EdgeStyle] ([yshift=-12pt]kurz.east) -- ([yshift=-4pt]postone.west);
   \draw[EdgeStyle] ([xshift=-12pt]freudo.south) -- ([xshift=-15pt]albert.north);
   \draw[EdgeStyle] (freudo.south) -- ([xshift=10pt]albert.north);
   \draw[EdgeStyle] ([xshift=25pt]freudo.south) -- ([xshift=-20pt]bergmann.north);
   \draw[EdgeStyle] ([xshift=8pt]freudo.south) -- ([xshift=-22pt]hahnel.north);
   \draw[EdgeStyle] ([xshift=12pt]freudo.south) -- ([xshift=-15pt]hahnel.north);
   \draw[EdgeStyle] ([yshift=-4pt]albert.west) -- ([yshift=-4pt]meszaros.east);
   \draw[EdgeStyle] ([xshift=8pt]meszaros.south) -- ([xshift=-5pt]wolfenstein.north);
   \draw[ArrowStyle] (kurz.south) -- ([xshift=-15pt]ollman.north east);
   \draw[ArrowStyle] (castoriadis.north east) -- ([yshift=-5pt]meszaros.west);
   \draw[EdgeStyle] ([yshift=2pt]axelos.east) -- ([yshift=2pt]kurz.west);
   \draw[EdgeStyle] ([xshift=20pt]reiche.north) -- ([yshift=-12pt]kurz.west);
   \draw[EdgeStyle] (sexrev) -- (axelos.east);
   \draw[EdgeStyle] (sexrev) -- ([xshift=-20pt]ollman.north);
   \draw[EdgeStyle] ([xshift=20pt]maturana.south) -- ([xshift=-15pt]ollman.north);
   \end{pgfonlayer}
\end{tikzpicture}
\end{document}
